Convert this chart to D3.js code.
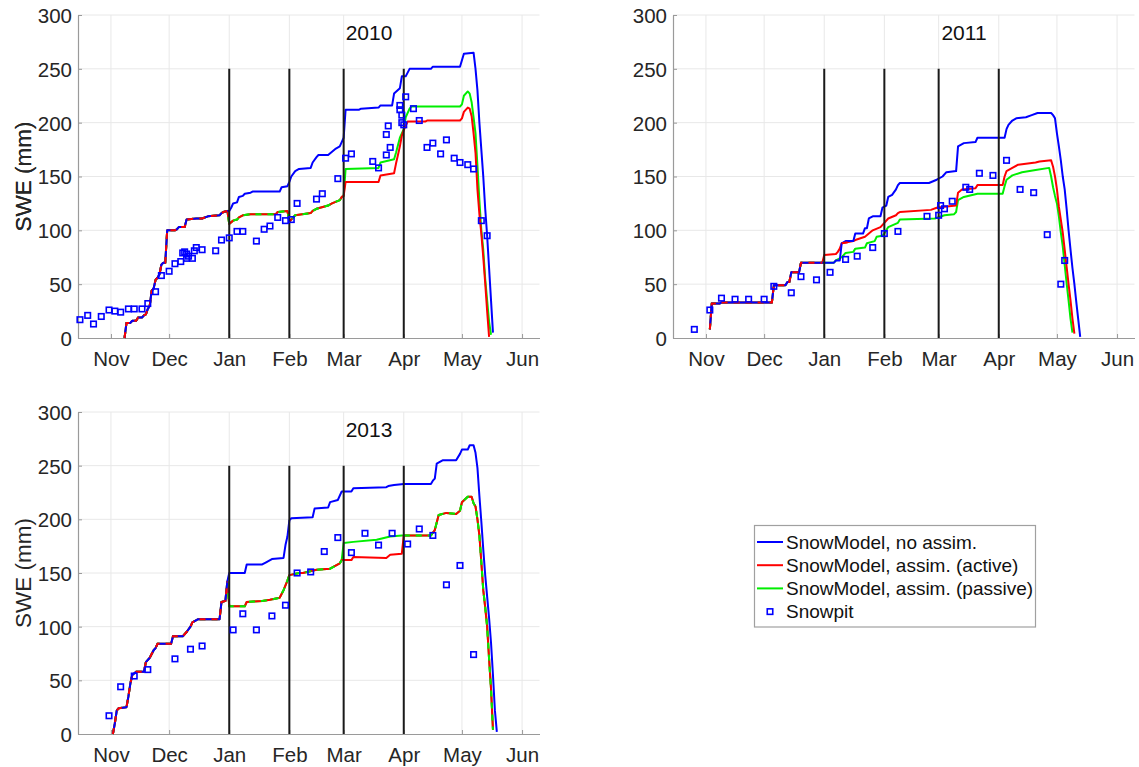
<!DOCTYPE html>
<html>
<head>
<meta charset="utf-8">
<script src="https://cdn.jsdelivr.net/npm/d3@7"></script>
<style>
  body { margin: 0; background: #fff; }
  svg { display: block; font-family: "Liberation Sans", Arial, Helvetica, sans-serif; }
</style>
</head>
<body>
<svg id="chart" width="1139" height="767"></svg>
<script>
// ---- axis ticks and labels ----
const monthTicks = ["11-01", "12-01", "01-01", "02-01", "03-01", "04-01", "05-01", "06-01"];
const monthLabels = ["Nov", "Dec", "Jan", "Feb", "Mar", "Apr", "May", "Jun"];
const assimDates = ["01-01", "02-01", "03-01", "04-01"];
const sweTicks = [0, 50, 100, 150, 200, 250, 300];
const seasonStart = "10-15";
const seasonEnd = "06-10";
const seriesNames = ["SnowModel, no assim.", "SnowModel, assim. (active)", "SnowModel, assim. (passive)", "Snowpit"];

// ---- 2010 season (SWE, mm) ----
const p1Common = [["11-08",0],["11-09",14],["11-11",14],["11-12",16],["11-14",16],["11-15",19],["11-17",19],["11-18",21],["11-19",22],["11-20",27],["11-21",30],["11-22",44],["11-23",46],["11-24",54],["11-25",56],["11-26",59],["11-27",68],["11-28",70],["11-29",70],["11-30",100],["12-04",100],["12-05",101],["12-06",103],["12-09",103],["12-10",110],["12-15",111],["12-18",111],["12-21",113],["12-27",114],["12-28",116],["12-29",117],["12-31",118]];
const p1BlueRest = [["01-01",118],["01-02",121],["01-03",125],["01-05",126],["01-06",131],["01-08",132],["01-09",134],["01-12",135],["01-13",136],["01-27",136],["01-28",140],["01-31",141],["02-01",145],["02-02",150],["02-04",155],["02-06",157],["02-12",158],["02-13",163],["02-15",168],["02-16",170],["02-21",170],["02-23",173],["02-25",176],["02-27",178],["02-28",182],["03-01",186],["03-02",212],["03-09",212],["03-10",213],["03-19",214],["03-20",216],["03-26",216],["03-27",227],["03-30",232],["03-31",243],["04-02",243],["04-04",250],["04-15",250],["04-16",252],["04-30",252],["05-01",258],["05-02",264],["05-07",265],["05-08",250],["05-09",230],["05-10",200],["05-11",175],["05-12",150],["05-13",120],["05-14",95],["05-15",65],["05-16",35],["05-17",5]];
const p1AssimShared = [["01-01",106],["01-03",109],["01-05",110],["01-06",112],["01-08",114],["01-12",115],["01-25",115],["01-26",117],["01-31",118],["02-01",108],["02-03",112],["02-04",114],["02-12",116],["02-13",118],["02-15",120],["02-21",123],["02-23",125],["02-27",128],["02-28",131],["03-01",132]];
const p1RedRest = [["03-02",145],["03-19",145],["03-20",151],["03-27",153],["03-28",162],["03-29",170],["03-30",178],["03-31",188],["04-01",193],["04-02",197],["04-03",201],["04-12",201],["04-13",202],["04-30",202],["05-01",204],["05-02",210],["05-04",214],["05-05",213],["05-06",206],["05-07",190],["05-08",172],["05-09",138],["05-10",115],["05-11",97],["05-12",75],["05-13",51],["05-14",25],["05-15",1]];
const p1GreenRest = [["03-02",157],["03-19",158],["03-20",163],["03-27",166],["03-28",172],["03-29",179],["03-30",186],["03-31",190],["04-01",194],["04-02",205],["04-04",213],["04-05",215],["04-30",215],["05-01",217],["05-02",225],["05-04",229],["05-05",227],["05-06",219],["05-07",205],["05-08",190],["05-09",160],["05-10",128],["05-11",100],["05-12",82],["05-13",55],["05-14",35],["05-15",15],["05-16",3]];
const p1Pits = [["10-16",17],["10-20",21],["10-23",13],["10-27",20],["10-31",26],["11-03",25],["11-06",24],["11-10",27],["11-13",27],["11-17",27],["11-20",32],["11-24",43],["11-27",58],["12-01",62],["12-04",69],["12-07",71],["12-08",79],["12-09",80],["12-10",78],["12-10",74],["12-11",76],["12-13",74],["12-14",81],["12-15",84],["12-18",82],["12-25",81],["12-28",91],["01-01",93],["01-05",99],["01-08",99],["01-15",90],["01-19",101],["01-22",104],["01-26",112],["01-30",109],["02-02",110],["02-05",125],["02-15",129],["02-18",134],["02-26",148],["03-02",167],["03-05",171],["03-16",164],["03-19",158],["03-23",170],["03-25",177],["03-23",189],["03-24",197],["03-30",216],["03-30",212],["03-31",207],["03-31",200],["04-01",198],["04-02",224],["04-06",213],["04-09",202],["04-13",177],["04-16",181],["04-20",171],["04-23",184],["04-27",167],["04-30",163],["05-04",161],["05-07",157],["05-11",109],["05-14",95]];

// ---- 2011 season ----
const p2Common = [["11-03",8],["11-04",32],["11-08",32],["11-09",33],["12-05",33],["12-06",49],["12-12",49],["12-13",52],["12-14",52],["12-15",61],["12-19",61],["12-20",70],["12-31",70]];
const p2BlueRest = [["01-06",70],["01-07",72],["01-09",72],["01-10",88],["01-12",90],["01-16",90],["01-17",97],["01-21",97],["01-22",102],["01-23",102],["01-24",111],["01-26",113],["01-30",113],["01-31",121],["02-02",123],["02-03",131],["02-05",133],["02-07",138],["02-08",142],["02-09",144],["02-24",144],["02-28",147],["03-03",150],["03-05",154],["03-10",155],["03-11",178],["03-14",181],["03-20",182],["03-21",186],["04-04",186],["04-05",194],["04-06",198],["04-08",202],["04-10",204],["04-15",205],["04-18",207],["04-21",209],["04-28",209],["04-29",207],["04-30",204],["05-01",190],["05-02",178],["05-03",165],["05-04",150],["05-05",138],["05-06",120],["05-07",100],["05-08",82],["05-09",65],["05-10",50],["05-11",33],["05-12",17],["05-13",1]];
const p2RedRest = [["01-01",77],["01-07",78],["01-08",80],["01-09",83],["01-10",88],["01-16",90],["01-17",91],["01-22",94],["01-24",97],["01-26",100],["01-30",103],["02-01",107],["02-03",111],["02-07",114],["02-08",116],["02-09",117],["02-25",119],["02-28",121],["03-04",122],["03-10",123],["03-11",135],["03-13",138],["03-20",139],["03-21",142],["04-03",142],["04-04",150],["04-05",155],["04-08",158],["04-11",161],["04-20",163],["04-22",164],["04-28",165],["04-29",159],["04-30",150],["05-01",138],["05-02",122],["05-03",110],["05-04",98],["05-05",82],["05-06",66],["05-07",50],["05-08",35],["05-09",18],["05-10",4]];
const p2GreenRest = [["01-06",70],["01-07",72],["01-10",75],["01-12",79],["01-16",80],["01-17",83],["01-22",84],["01-23",88],["01-27",90],["01-28",94],["01-31",95],["02-01",97],["02-02",100],["02-03",103],["02-08",107],["02-09",110],["02-27",111],["03-04",114],["03-09",115],["03-10",117],["03-11",128],["03-14",131],["03-21",134],["04-03",134],["04-04",141],["04-05",147],["04-08",151],["04-13",154],["04-20",156],["04-27",158],["04-28",150],["04-29",140],["04-30",132],["05-01",125],["05-02",113],["05-03",98],["05-04",85],["05-05",68],["05-06",51],["05-07",35],["05-08",18],["05-09",5]];
const p2Pits = [["10-26",8],["11-03",26],["11-09",37],["11-16",36],["11-23",36],["12-01",36],["12-06",48],["12-15",42],["12-20",57],["12-28",54],["01-04",61],["01-12",73],["01-18",76],["01-26",84],["02-01",97],["02-08",99],["02-23",113],["03-01",114],["03-02",123],["03-04",120],["03-08",127],["03-15",140],["03-17",138],["03-22",153],["03-29",151],["04-05",165],["04-12",138],["04-19",135],["04-26",96],["05-03",50],["05-05",72]];

// ---- 2013 season ----
const p3Common = [["11-02",0],["11-03",10],["11-04",22],["11-05",24],["11-09",25],["11-10",35],["11-11",47],["11-12",55],["11-14",58],["11-18",58],["11-19",67],["11-21",71],["11-23",78],["11-24",80],["11-25",84],["12-02",84],["12-03",91],["12-08",91],["12-10",95],["12-12",100],["12-13",104],["12-16",107],["12-27",107],["12-28",123],["12-30",124],["12-31",142]];
const p3BlueRest = [["01-01",150],["01-09",150],["01-10",158],["01-18",158],["01-20",160],["01-23",163],["01-29",164],["01-30",176],["01-31",184],["02-01",199],["02-02",201],["02-13",202],["02-14",210],["02-21",211],["02-22",216],["02-26",218],["02-28",226],["03-05",226],["03-06",229],["03-23",230],["03-24",231],["03-27",232],["04-01",233],["04-15",233],["04-16",236],["04-17",238],["04-18",252],["04-21",255],["04-28",255],["04-30",261],["05-01",265],["05-04",265],["05-05",269],["05-07",269],["05-08",262],["05-09",248],["05-10",222],["05-11",198],["05-12",172],["05-13",148],["05-14",128],["05-15",108],["05-16",85],["05-17",55],["05-18",22],["05-19",2]];
const p3AssimEarly = [["01-01",119],["01-09",119],["01-10",123],["01-18",124],["01-22",125],["01-27",127],["01-29",134],["01-31",143],["02-01",148],["02-06",150],["02-08",150],["02-15",153],["02-22",154],["02-27",159],["02-28",162]];
const p3RedMar = [["03-05",162],["03-06",165],["03-23",164],["03-25",167],["03-31",168]];
const p3GreenMar = [["03-01",178],["03-06",179],["03-18",181],["03-25",184],["03-31",185]];
const p3AssimLate = [["04-01",185],["04-15",185],["04-17",190],["04-19",204],["04-23",206],["04-28",205],["04-30",208],["05-01",216],["05-04",221],["05-06",221],["05-07",215],["05-08",212],["05-09",200],["05-10",185],["05-11",160],["05-12",134],["05-13",118],["05-14",100],["05-15",70],["05-16",42],["05-17",4]];
const p3Pits = [["10-31",17],["11-06",44],["11-13",54],["11-20",60],["12-04",70],["12-12",79],["12-18",82],["01-03",97],["01-08",112],["01-15",97],["01-23",110],["01-30",120],["02-05",150],["02-12",151],["02-19",170],["02-26",183],["03-05",169],["03-12",187],["03-19",176],["03-26",187],["04-03",177],["04-09",191],["04-16",185],["04-23",139],["04-30",157],["05-07",74]];

// ---- assembled series ----
const p1Blue = p1Common.concat(p1BlueRest);
const p1Red = p1Common.concat(p1AssimShared, p1RedRest);
const p1Green = p1Common.concat(p1AssimShared, p1GreenRest);
const p2Blue = p2Common.concat(p2BlueRest);
const p2Red = p2Common.concat(p2RedRest);
const p2Green = p2Common.concat(p2GreenRest);
const p3Blue = p3Common.concat(p3BlueRest);
const p3Red = p3Common.concat(p3AssimEarly, p3RedMar, p3AssimLate);
const p3Green = p3Common.concat(p3AssimEarly, p3GreenMar, p3AssimLate);

const colors = { blue: "#0000ff", red: "#ff0000", green: "#00ee00" };

const panels = [
  { title: "2010", startYear: 2009, left: 78, right: 539.5, top: 15, bottom: 338, blue: p1Blue, red: p1Red, green: p1Green, pits: p1Pits },
  { title: "2011", startYear: 2010, left: 673, right: 1134.5, top: 15, bottom: 338, blue: p2Blue, red: p2Red, green: p2Green, pits: p2Pits },
  { title: "2013", startYear: 2012, left: 78, right: 539.5, top: 412, bottom: 734, blue: p3Blue, red: p3Red, green: p3Green, pits: p3Pits }
];

// month-day string -> UTC date within a season starting in October of startYear
function seasonDate(md, startYear) {
  const m = +md.slice(0, 2), d = +md.slice(3, 5);
  return new Date(Date.UTC(m >= 10 ? startYear : startYear + 1, m - 1, d));
}

// runs of consecutive points of `a` that also lie on `b`
function sharedRuns(a, b) {
  const keys = new Set(b.map(p => p[0] + "|" + p[1]));
  const runs = [];
  let cur = null;
  for (let i = 0; i < a.length - 1; i++) {
    const k1 = a[i][0] + "|" + a[i][1], k2 = a[i + 1][0] + "|" + a[i + 1][1];
    if (keys.has(k1) && keys.has(k2)) {
      if (!cur) { cur = [a[i]]; runs.push(cur); }
      cur.push(a[i + 1]);
    } else cur = null;
  }
  return runs;
}

const svg = d3.select("#chart");
const textColor = "#262626";

panels.forEach(P => {
  const x = d3.scaleUtc()
    .domain([seasonDate(seasonStart, P.startYear), seasonDate(seasonEnd, P.startYear)])
    .range([P.left, P.right]);
  const y = d3.scaleLinear().domain([0, 300]).range([P.bottom, P.top]);
  const g = svg.append("g");
  const tickDates = monthTicks.map(t => seasonDate(t, P.startYear));

  // grid
  g.append("g").selectAll("line").data(sweTicks.filter(v => v > 0)).join("line")
    .attr("x1", P.left).attr("x2", P.right)
    .attr("y1", d => y(d)).attr("y2", d => y(d))
    .attr("stroke", "#e8e8e8").attr("stroke-width", 1);
  g.append("g").selectAll("line").data(tickDates).join("line")
    .attr("x1", d => x(d)).attr("x2", d => x(d))
    .attr("y1", y(0)).attr("y2", y(300))
    .attr("stroke", "#e8e8e8").attr("stroke-width", 1);

  // axes
  const xAxis = d3.axisBottom(x).tickValues(tickDates)
    .tickFormat((d, i) => monthLabels[i]).tickSizeInner(-4).tickSizeOuter(0).tickPadding(13);
  const yAxis = d3.axisLeft(y).tickValues(sweTicks)
    .tickSizeInner(-4).tickSizeOuter(0).tickPadding(6);
  const gx = g.append("g").attr("transform", `translate(0,${P.bottom})`).call(xAxis);
  const gy = g.append("g").attr("transform", `translate(${P.left},0)`).call(yAxis);
  [gx, gy].forEach(a => {
    a.select(".domain").attr("stroke", "#9a9a9a").attr("stroke-width", 1.2);
    a.selectAll(".tick line").attr("stroke", "#9a9a9a");
    a.selectAll(".tick text").attr("fill", textColor).style("font-size", "20.5px");
  });
  gy.selectAll(".tick text").attr("dy", "0.36em");

  // y label and season title
  g.append("text")
    .attr("transform", `translate(31,${(P.top + P.bottom) / 2}) rotate(-90)`)
    .attr("text-anchor", "middle").attr("fill", textColor)
    .style("font-size", "22.5px").text("SWE (mm)");
  g.append("text")
    .attr("x", P.left + 291).attr("y", P.top + 25)
    .attr("text-anchor", "middle").attr("fill", "#111")
    .style("font-size", "21px").text(P.title);

  const line = d3.line()
    .x(d => x(seasonDate(d[0], P.startYear)))
    .y(d => y(d[1]));

  const drawSolid = (data, color) => g.append("path").datum(data)
    .attr("d", line).attr("fill", "none").attr("stroke", color)
    .attr("stroke-width", 2).attr("stroke-linejoin", "round");
  const drawDashed = (runs, color) => runs.forEach(r => g.append("path").datum(r)
    .attr("d", line).attr("fill", "none").attr("stroke", color)
    .attr("stroke-width", 2).attr("stroke-dasharray", "6,6"));

  // model curves; where curves coincide the upper one is dashed over the lower
  drawSolid(P.green, colors.green);
  drawSolid(P.red, colors.red);
  drawDashed(sharedRuns(P.green, P.red), colors.green);
  drawSolid(P.blue, colors.blue);
  drawDashed(sharedRuns(P.red, P.blue), colors.red);

  // assimilation dates
  g.append("g").selectAll("line").data(assimDates.map(t => seasonDate(t, P.startYear))).join("line")
    .attr("x1", d => x(d)).attr("x2", d => x(d))
    .attr("y1", y(0)).attr("y2", y(250))
    .attr("stroke", "#1a1a1a").attr("stroke-width", 2);

  // snowpit observations
  g.append("g").selectAll("rect").data(P.pits).join("rect")
    .attr("x", d => x(seasonDate(d[0], P.startYear)) - 2.75)
    .attr("y", d => y(d[1]) - 2.75)
    .attr("width", 5.5).attr("height", 5.5)
    .attr("fill", "none").attr("stroke", colors.blue).attr("stroke-width", 1.6);
});

// legend
const legend = svg.append("g");
legend.append("rect").attr("x", 754.5).attr("y", 525.5).attr("width", 281).attr("height", 101.5)
  .attr("fill", "#fff").attr("stroke", "#a0a0a0").attr("stroke-width", 1.2);
const legendColors = [colors.blue, colors.red, colors.green, colors.blue];
seriesNames.forEach((name, i) => {
  const cy = 542 + i * 23.2;
  if (i < 3) {
    legend.append("line").attr("x1", 757).attr("x2", 783).attr("y1", cy).attr("y2", cy)
      .attr("stroke", legendColors[i]).attr("stroke-width", 2);
  } else {
    legend.append("rect").attr("x", 770 - 2.75).attr("y", cy - 2.75).attr("width", 5.5).attr("height", 5.5)
      .attr("fill", "none").attr("stroke", legendColors[i]).attr("stroke-width", 1.6);
  }
  legend.append("text").attr("x", 786).attr("y", cy).attr("dy", "0.35em")
    .attr("fill", "#111").style("font-size", "19px").text(name);
});
</script>
</body>
</html>
